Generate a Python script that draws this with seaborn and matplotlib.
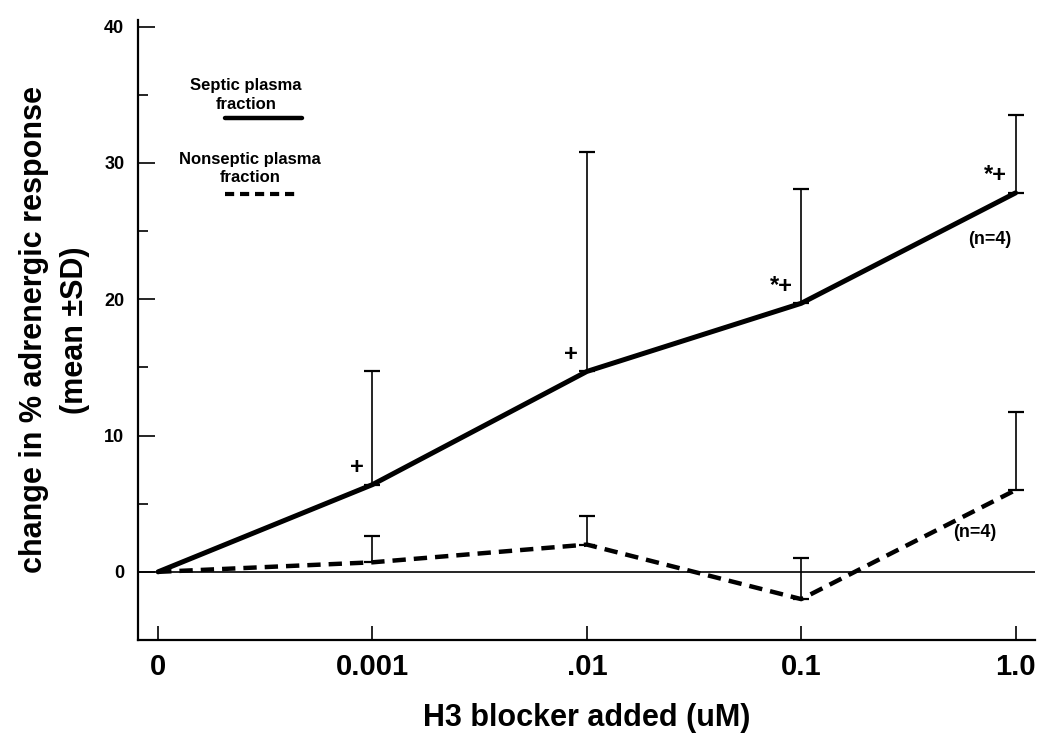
#!/usr/bin/env python3
"""H3 blocker: change in % adrenergic response, septic vs nonseptic plasma fraction."""

import numpy as np
import pandas as pd
import matplotlib
matplotlib.use("Agg")
import matplotlib.pyplot as plt
import seaborn as sns

# Data
doses = ["0", "0.001", ".01", "0.1", "1.0"]
septic_mean = [0.0, 6.4, 14.7, 19.7, 27.8]
septic_sd = [np.nan, 8.3, 16.1, 8.4, 5.7]
nonseptic_mean = [0.0, 0.7, 2.0, -2.0, 6.0]
nonseptic_sd = [np.nan, 1.9, 2.1, 3.0, 5.7]
septic_marks = ["", "+", "+", "*+", "*+"]

sns.set_style("white")
plt.rcParams["font.family"] = ["Liberation Sans", "DejaVu Sans"]
plt.rcParams["font.weight"] = "bold"
for key in ["text.color", "axes.labelcolor", "xtick.color", "ytick.color", "axes.edgecolor"]:
    plt.rcParams[key] = "black"

fig = plt.figure(figsize=(10.39, 7.41), dpi=100)
ax = fig.add_axes([0.133, 0.1363, 0.863, 0.837])

pos = np.arange(len(doses))
df = pd.DataFrame({
    "pos": np.concatenate([pos, pos]),
    "value": septic_mean + nonseptic_mean,
    "group": ["Septic"] * len(pos) + ["Nonseptic"] * len(pos),
})

# zero reference line
ax.axhline(0, color="black", lw=1.2, zorder=1)

sns.lineplot(data=df[df["group"] == "Septic"], x="pos", y="value", ax=ax,
             color="black", lw=3.6, legend=False, zorder=3)
sns.lineplot(data=df[df["group"] == "Nonseptic"], x="pos", y="value", ax=ax,
             color="black", lw=3.2, legend=False, zorder=3,
             linestyle=(0, (3.0, 1.8)))

# upward-only SD bars
for mean, sd in [(septic_mean, septic_sd), (nonseptic_mean, nonseptic_sd)]:
    m = np.array(mean)
    s = np.array(sd)
    ok = ~np.isnan(s)
    ax.errorbar(pos[ok], m[ok], yerr=[np.zeros(ok.sum()), s[ok]],
                fmt="none", ecolor="black", elinewidth=1.2, capsize=6,
                capthick=1.6, zorder=2)

# significance marks
for p, m, txt in zip(pos, septic_mean, septic_marks):
    if txt:
        ax.text(p - 0.04, m + 0.4, txt, ha="right", va="bottom",
                fontsize=17, fontweight="bold")

ax.text(3.88, 24.4, "(n=4)", ha="center", va="center", fontsize=13, fontweight="bold")
ax.text(3.81, 2.9, "(n=4)", ha="center", va="center", fontsize=13, fontweight="bold")

# legend drawn by hand like the original
ax.text(0.41, 35.0, "Septic plasma\nfraction", ha="center", va="center",
        fontsize=12, fontweight="bold", linespacing=1.3)
ax.plot([0.31, 0.67], [33.3, 33.3], color="black", lw=3.2)
ax.text(0.43, 29.6, "Nonseptic plasma\nfraction", ha="center", va="center",
        fontsize=12, fontweight="bold", linespacing=1.3)
ax.plot([0.31, 0.64], [27.7, 27.7], color="black", lw=3.0, linestyle=(0, (2.2, 1.4)))

ax.set_xlim(-0.093, 4.09)
ax.set_ylim(-5, 40.5)
ax.set_xticks(pos)
ax.set_xticklabels(doses, fontsize=21, fontweight="bold")
ax.set_yticks([0, 10, 20, 30, 40])
ax.set_yticks([5, 15, 25, 35], minor=True)
ax.tick_params(axis="y", which="major", labelsize=13, direction="in", length=12,
               width=1.2, pad=10, left=True)
ax.tick_params(axis="y", which="minor", direction="in", length=7, width=1.2, left=True)
ax.tick_params(axis="x", direction="in", length=10, width=1.2, pad=9, bottom=True)
for lbl in ax.get_yticklabels():
    lbl.set_fontweight("bold")

ax.set_xlabel("H3 blocker added (uM)", fontsize=22, fontweight="bold", labelpad=16)
ax.set_ylabel("change in % adrenergic response\n(mean ±SD)", fontsize=22,
              fontweight="bold", labelpad=10, linespacing=1.5)

sns.despine(ax=ax)
ax.spines["left"].set_linewidth(1.6)
ax.spines["bottom"].set_linewidth(1.6)

fig.savefig("out.png", dpi=100)
